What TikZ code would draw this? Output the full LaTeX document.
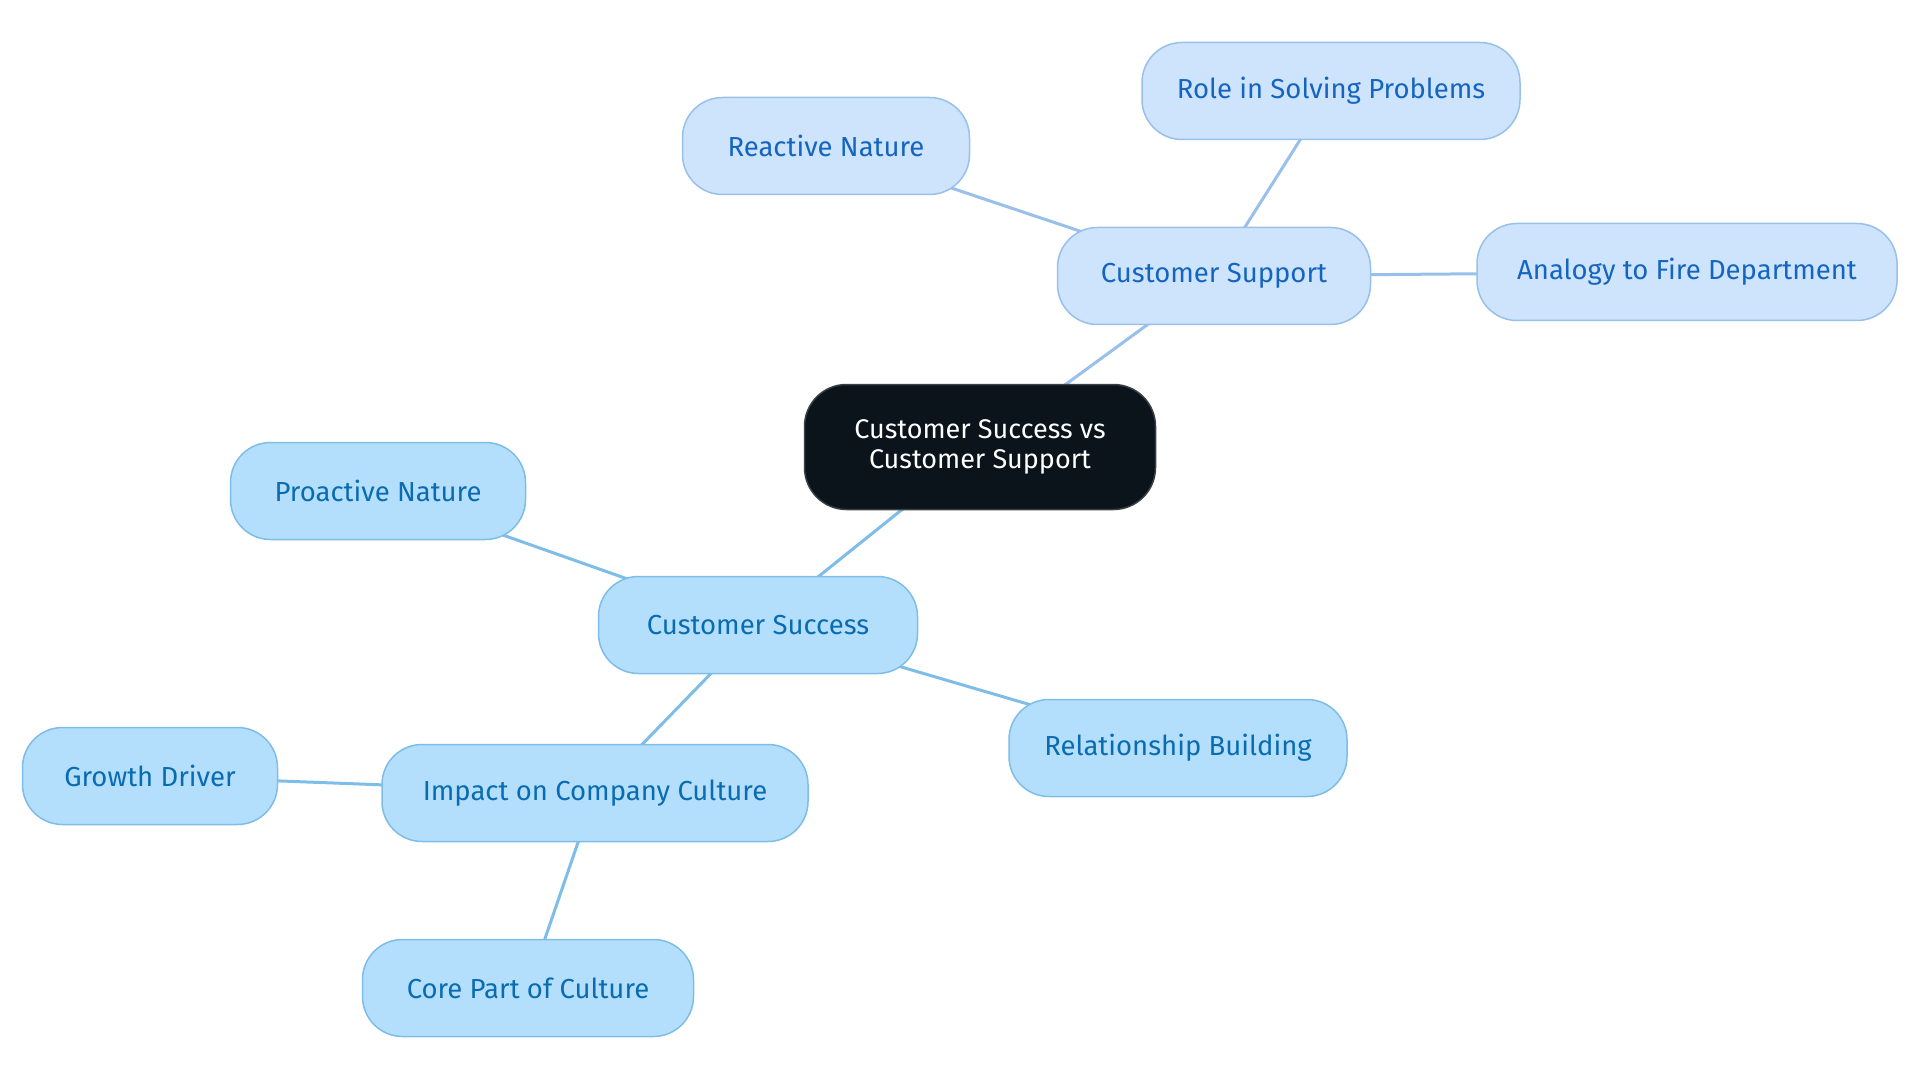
\documentclass[tikz,border=0pt]{standalone}
\usepackage{fontspec}
\setmainfont{Fira Sans}
\usetikzlibrary{backgrounds}
\definecolor{ink}{HTML}{0B131B}
\definecolor{rim}{HTML}{3A3F45}
\definecolor{suppfill}{HTML}{CDE4FC}
\definecolor{supprim}{HTML}{98C0EA}
\definecolor{supptext}{HTML}{1565C0}
\definecolor{succfill}{HTML}{B4DFFC}
\definecolor{succrim}{HTML}{7DBDE8}
\definecolor{succtext}{HTML}{0A6CB0}
\tikzset{root/.style={draw=rim,line width=1.5pt,fill=ink,text=white,rounded corners=42pt,align=center,font=\fontsize{27}{29.5}\selectfont,minimum width=351pt,minimum height=125pt},
supp/.style={draw=supprim,line width=1.5pt,fill=suppfill,text=supptext,rounded corners=40pt,font=\fontsize{27.5}{30}\selectfont,minimum height=97pt},
succ/.style={draw=succrim,line width=1.5pt,fill=succfill,text=succtext,rounded corners=40pt,font=\fontsize{27.5}{30}\selectfont,minimum height=97pt},
supplink/.style={draw=supprim,line width=3pt},
succlink/.style={draw=succrim,line width=3pt}}

\begin{document}
\begin{tikzpicture}[x=1pt,y=-1pt]
\useasboundingbox (0,0) rectangle (1920,1083);
\node[root] (cs) at (980,447) {Customer Success vs\\Customer Support};
\node[supp,minimum width=313pt] (sup) at (1214,276) {Customer Support};
\node[supp,minimum width=287pt] (react) at (826,146) {Reactive Nature};
\node[supp,minimum width=378pt] (role) at (1331,91) {Role in Solving Problems};
\node[supp,minimum width=420pt] (fire) at (1687,272) {Analogy to Fire Department};
\node[succ,minimum width=319pt] (suc) at (758,625) {Customer Success};
\node[succ,minimum width=295pt] (proact) at (378,491) {Proactive Nature};
\node[succ,minimum width=338pt] (rel) at (1178,748) {Relationship Building};
\node[succ,minimum width=426pt] (impact) at (595,793) {Impact on Company Culture};
\node[succ,minimum width=255pt] (growth) at (150,776) {Growth Driver};
\node[succ,minimum width=331pt] (core) at (528,988) {Core Part of Culture};
\begin{scope}[on background layer]
\foreach \aa/\bb in {cs/sup,sup/react,sup/role,sup/fire}{\draw[supplink](\aa.center)--(\bb.center);}
\foreach \aa/\bb in {cs/suc,suc/proact,suc/rel,suc/impact,impact/growth,impact/core}{\draw[succlink](\aa.center)--(\bb.center);}
\end{scope}
\end{tikzpicture}
\end{document}
